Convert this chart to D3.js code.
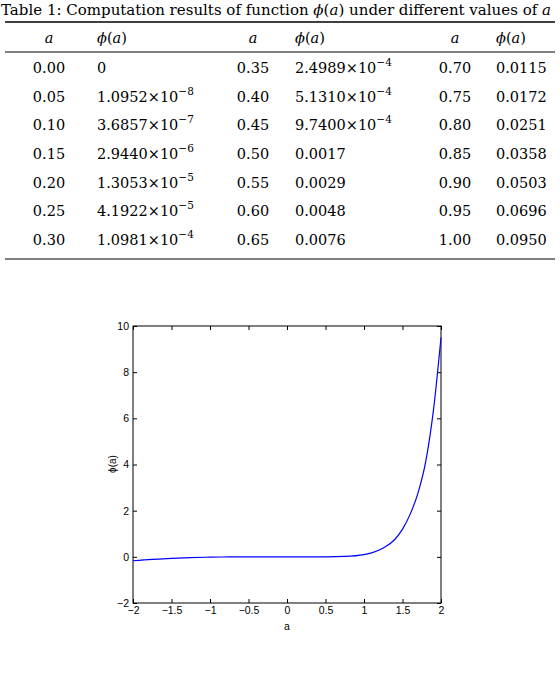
<!DOCTYPE html>
<html><head><meta charset="utf-8">
<script src="https://cdn.jsdelivr.net/npm/d3@7"></script>
<style>
body{margin:0;background:#fff;}
svg text{fill:#000;}
</style></head>
<body>
<svg id="c" width="560" height="678"></svg>
<script>
// table columns
const aCol1 = ['0.00','0.05','0.10','0.15','0.20','0.25','0.30'];
const phiCol1 = [['0',null],['1.0952','−8'],['3.6857','−7'],['2.9440','−6'],['1.3053','−5'],['4.1922','−5'],['1.0981','−4']];
const aCol2 = ['0.35','0.40','0.45','0.50','0.55','0.60','0.65'];
const phiCol2 = [['2.4989','−4'],['5.1310','−4'],['9.7400','−4'],['0.0017',null],['0.0029',null],['0.0048',null],['0.0076',null]];
const aCol3 = ['0.70','0.75','0.80','0.85','0.90','0.95','1.00'];
const phiCol3 = [['0.0115',null],['0.0172',null],['0.0251',null],['0.0358',null],['0.0503',null],['0.0696',null],['0.0950',null]];

// curve
const curveA = [-2,-1.75,-1.5,-1.25,-1,-0.75,-0.5,-0.25,0,0.25,0.5,0.75,1,1.1,1.25,1.4,1.5,1.6,1.7,1.8,1.9,2];
const curvePhi = [-0.17,-0.11,-0.07,-0.035,-0.015,-0.005,-0.001,0,0,0.00005,0.0017,0.0172,0.095,0.17,0.38,0.75,1.2,1.85,2.75,4.1,6.3,9.5];
const xTicks = [-2,-1.5,-1,-0.5,0,0.5,1,1.5,2];
const yTicks = [-2,0,2,4,6,8,10];

const svg = d3.select('#c');
const serif = '"DejaVu Serif", serif';

/* table */
const tb = svg.append('g').attr('font-family', serif).attr('font-size', 14.5);
tb.append('text').attr('x', 1).attr('y', 15).attr('font-size', 14)
  .attr('textLength', 550).attr('lengthAdjust', 'spacingAndGlyphs')
  .html('Table 1: Computation results of function <tspan font-style="italic">ϕ</tspan>(<tspan font-style="italic">a</tspan>) under different values of <tspan font-style="italic">a</tspan>');
[[22,1.6],[52,1],[259,1]].forEach(([y,w]) =>
  tb.append('line').attr('x1',5).attr('x2',555).attr('y1',y).attr('y2',y).attr('stroke','#000').attr('stroke-width',w));

const rowY = d3.scalePoint().domain(d3.range(7)).range([73, 245]);
const cols = [[49,97,aCol1,phiCol1],[253,295,aCol2,phiCol2],[455,496,aCol3,phiCol3]];
cols.forEach(([ax, px, as, ps]) => {
  tb.append('text').attr('x',ax).attr('y',43).attr('text-anchor','middle').attr('font-style','italic').text('a');
  tb.append('text').attr('x',px).attr('y',43).html('<tspan font-style="italic">ϕ</tspan>(<tspan font-style="italic">a</tspan>)');
  as.forEach((v,i) => tb.append('text').attr('x',ax).attr('y',rowY(i)).attr('text-anchor','middle').text(v));
  ps.forEach(([m,e],i) => {
    const t = tb.append('text').attr('x',px).attr('y',rowY(i));
    if (e) t.html(`${m}×10<tspan dy="-7" font-size="10.5">${e}</tspan>`);
    else t.text(m);
  });
});

/* plot */
const x = d3.scaleLinear().domain([-2,2]).range([133,441]);
const y = d3.scaleLinear().domain([-2,10]).range([603,326]);
const g = svg.append('g');

g.append('rect').attr('x',133).attr('y',326).attr('width',308).attr('height',277)
  .attr('fill','none').attr('stroke','#000').attr('stroke-width',1);

const ax = (axis, tr) => g.append('g').attr('transform',tr).call(axis)
  .attr('font-family','"Liberation Sans", Arial, sans-serif').attr('font-size',10.5)
  .call(s => s.select('.domain').remove())
  .call(s => s.selectAll('line').attr('stroke','#000'));
ax(d3.axisBottom(x).tickValues(xTicks).tickSize(-4).tickPadding(4).tickFormat(d => d3.format('')(d).replace('-','−')), 'translate(0,603)');
ax(d3.axisTop(x).tickValues(xTicks).tickSize(-4).tickFormat(''), 'translate(0,326)');
ax(d3.axisLeft(y).tickValues(yTicks).tickSize(-4).tickPadding(4).tickFormat(d => String(d).replace('-','−')), 'translate(133,0)');
ax(d3.axisRight(y).tickValues(yTicks).tickSize(-4).tickFormat(''), 'translate(441,0)');

g.append('text').attr('x',287).attr('y',630).attr('text-anchor','middle')
  .attr('font-family','"Liberation Sans", Arial, sans-serif').attr('font-size',10.5).text('a');
g.append('text').attr('transform','translate(116,464) rotate(-90)').attr('text-anchor','middle')
  .attr('font-family','"Liberation Sans", Arial, sans-serif').attr('font-size',10).text('ϕ(a)');

const line = d3.line().x((d,i) => x(curveA[i])).y(d => y(d)).curve(d3.curveMonotoneX);
g.append('path').datum(curvePhi).attr('d', line).attr('fill','none').attr('stroke','#0000ff').attr('stroke-width',1.2);
</script>
</body></html>
